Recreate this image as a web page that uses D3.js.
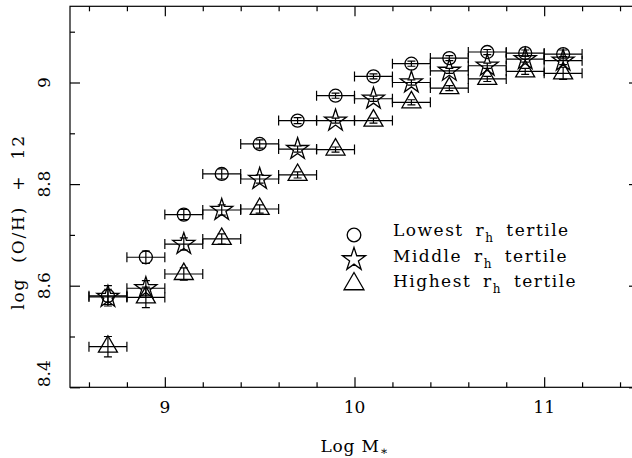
<!DOCTYPE html>
<html>
<head>
<meta charset="utf-8">
<script src="https://cdn.jsdelivr.net/npm/d3@7"></script>
<style>
  body { margin: 0; background: #fff; }
  svg { display: block; }
  text { font-family: "DejaVu Serif", serif; fill: #000; }
</style>
</head>
<body>
<div id="chart"></div>
<script>
// mass bins (log M*) and the half width of each bin
const massBins = [8.7, 8.9, 9.1, 9.3, 9.5, 9.7, 9.9, 10.1, 10.3, 10.5, 10.7, 10.9, 11.1]
const binHalfWidth = 0.1

// metallicity per r_h tertile, with errors
const lowestOH  = [8.580, 8.656, 8.740, 8.820, 8.879, 8.925, 8.974, 9.012, 9.037, 9.048, 9.060, 9.058, 9.056]
const lowestErr = [0.020, 0.012, 0.010, 0.010, 0.008, 0.006, 0.005, 0.005, 0.005, 0.005, 0.005, 0.006, 0.008]
const middleOH  = [8.578, 8.595, 8.682, 8.749, 8.810, 8.869, 8.925, 8.968, 9.000, 9.023, 9.033, 9.046, 9.043]
const middleErr = [0.015, 0.015, 0.012, 0.010, 0.008, 0.006, 0.005, 0.005, 0.005, 0.005, 0.005, 0.006, 0.008]
const highestOH  = [8.480, 8.577, 8.623, 8.692, 8.751, 8.818, 8.868, 8.925, 8.961, 8.989, 9.007, 9.022, 9.018]
const highestErr = [0.020, 0.020, 0.012, 0.010, 0.008, 0.006, 0.005, 0.005, 0.005, 0.005, 0.005, 0.006, 0.012]

// ticks
const xMajorTicks = [9, 10, 11]
const xMinorTicks = [8.6, 8.8, 9.2, 9.4, 9.6, 9.8, 10.2, 10.4, 10.6, 10.8, 11.2, 11.4]
const yMajorTicks = [8.4, 8.6, 8.8, 9]
const yMinorTicks = [8.5, 8.7, 8.9, 9.1]

const series = [
  { name: "Lowest",  values: lowestOH,  errors: lowestErr,  symbol: d3.symbolCircle,   size: 133 },
  { name: "Middle",  values: middleOH,  errors: middleErr,  symbol: d3.symbolStar,     size: 150 },
  { name: "Highest", values: highestOH, errors: highestErr, symbol: d3.symbolTriangle, size: 156 }
]

let configuration = {
  "width": 632,
  "height": 458,
  "frame": { "left": 70, "right": 639, "top": 6.3, "bottom": 387.3 },
  "majorTick": 10,
  "minorTick": 5,
  "cap": { "h": 5, "v": 4 },
  "fontSize": 17,
  "legend": { "x": 354, "y": 235, "step": 24.5, "textX": 393 }
}
const f = configuration.frame

const svg = d3.select("#chart").append("svg")
  .attr("width", configuration.width)
  .attr("height", configuration.height)

const x = d3.scaleLinear().domain([8.5, 11.5]).range([f.left, f.right])
const y = d3.scaleLinear().domain([8.4, 9.15]).range([f.bottom, f.top])

// frame
svg.append("rect")
  .attr("x", f.left).attr("y", f.top)
  .attr("width", f.right - f.left).attr("height", f.bottom - f.top)
  .attr("fill", "none").attr("stroke", "#000").attr("stroke-width", 1.2)

const tickAxis = (axis, transform, values, size) => {
  const g = svg.append("g")
    .attr("transform", transform)
    .call(axis.tickValues(values).tickSize(-size).tickFormat(""))
  g.select(".domain").remove()
  g.selectAll("line").attr("stroke", "#000").attr("stroke-width", 1.2)
  return g
}

// ticks on all four sides, pointing inward
tickAxis(d3.axisBottom(x), `translate(0,${f.bottom})`, xMajorTicks, configuration.majorTick)
tickAxis(d3.axisBottom(x), `translate(0,${f.bottom})`, xMinorTicks, configuration.minorTick)
tickAxis(d3.axisTop(x), `translate(0,${f.top})`, xMajorTicks, configuration.majorTick)
tickAxis(d3.axisTop(x), `translate(0,${f.top})`, xMinorTicks, configuration.minorTick)
tickAxis(d3.axisLeft(y), `translate(${f.left},0)`, yMajorTicks, configuration.majorTick)
tickAxis(d3.axisLeft(y), `translate(${f.left},0)`, yMinorTicks, configuration.minorTick)
tickAxis(d3.axisRight(y), `translate(${f.right},0)`, yMajorTicks, configuration.majorTick)
tickAxis(d3.axisRight(y), `translate(${f.right},0)`, yMinorTicks, configuration.minorTick)

// x tick labels
svg.append("g").selectAll("text")
  .data(xMajorTicks)
  .enter()
  .append("text")
  .attr("x", d => x(d))
  .attr("y", f.bottom + 26)
  .attr("text-anchor", "middle")
  .attr("font-size", configuration.fontSize)
  .text(d => d)

// y tick labels, rotated; the lowest one starts at its tick
svg.append("g").selectAll("text")
  .data(yMajorTicks)
  .enter()
  .append("text")
  .attr("transform", d => `translate(50,${y(d)}) rotate(-90)`)
  .attr("text-anchor", (d, i) => i === 0 ? "start" : "middle")
  .attr("font-size", configuration.fontSize)
  .text(d => d3.format(".1f")(d).replace(/\.0$/, ""))

// axis titles
const xTitle = svg.append("text")
  .attr("x", (f.left + f.right) / 2)
  .attr("y", 452)
  .attr("text-anchor", "middle")
  .attr("font-size", configuration.fontSize)
  .attr("letter-spacing", 0.8)
xTitle.append("tspan").text("Log M")
xTitle.append("tspan").attr("font-size", 12).attr("dy", 3).text("∗")

svg.append("text")
  .attr("transform", `translate(23.5,222) rotate(-90)`)
  .attr("text-anchor", "middle")
  .attr("font-size", configuration.fontSize)
  .attr("letter-spacing", 1.8)
  .attr("word-spacing", 8)
  .text("log (O/H) + 12")

// error bars
const bars = svg.append("g").attr("stroke", "#000").attr("stroke-width", 1.2).attr("fill", "none")
series.forEach(s => {
  massBins.forEach((m, i) => {
    const cx = x(m), cy = y(s.values[i])
    const x0 = x(m - binHalfWidth), x1 = x(m + binHalfWidth)
    const y0 = y(s.values[i] - s.errors[i]), y1 = y(s.values[i] + s.errors[i])
    const ch = configuration.cap.h, cv = configuration.cap.v
    bars.append("path")
      .attr("d", `M${x0},${cy}H${x1}M${x0},${cy - ch}V${cy + ch}M${x1},${cy - ch}V${cy + ch}` +
                 `M${cx},${y0}V${y1}M${cx - cv},${y0}H${cx + cv}M${cx - cv},${y1}H${cx + cv}`)
  })
})

// markers
series.forEach(s => {
  svg.append("g").selectAll("path")
    .data(massBins.map((m, i) => ({ m: m, v: s.values[i] })))
    .enter()
    .append("path")
    .attr("transform", d => `translate(${x(d.m)},${y(d.v)})`)
    .attr("d", d3.symbol(s.symbol, s.size))
    .attr("fill", "none")
    .attr("stroke", "#000")
    .attr("stroke-width", 1.3)
})

// legend
const lg = configuration.legend
const legend = svg.append("g").selectAll("g")
  .data(series)
  .enter()
  .append("g")
  .attr("transform", (d, i) => `translate(0,${lg.y + i * lg.step})`)
legend.append("path")
  .attr("transform", `translate(${lg.x},0)`)
  .attr("d", d => d3.symbol(d.symbol, d.size * 1.1)())
  .attr("fill", "none")
  .attr("stroke", "#000")
  .attr("stroke-width", 1.3)
const label = legend.append("text")
  .attr("x", lg.textX)
  .attr("y", (d, i) => 1 + i * 1.2)
  .attr("font-size", configuration.fontSize)
  .attr("letter-spacing", 1.5)
  .attr("word-spacing", 5)
label.append("tspan").text(d => `${d.name} r`)
label.append("tspan").attr("font-size", 12).attr("dy", 6).text("h")
label.append("tspan").attr("dy", -6).text(" tertile")
</script>
</body>
</html>
